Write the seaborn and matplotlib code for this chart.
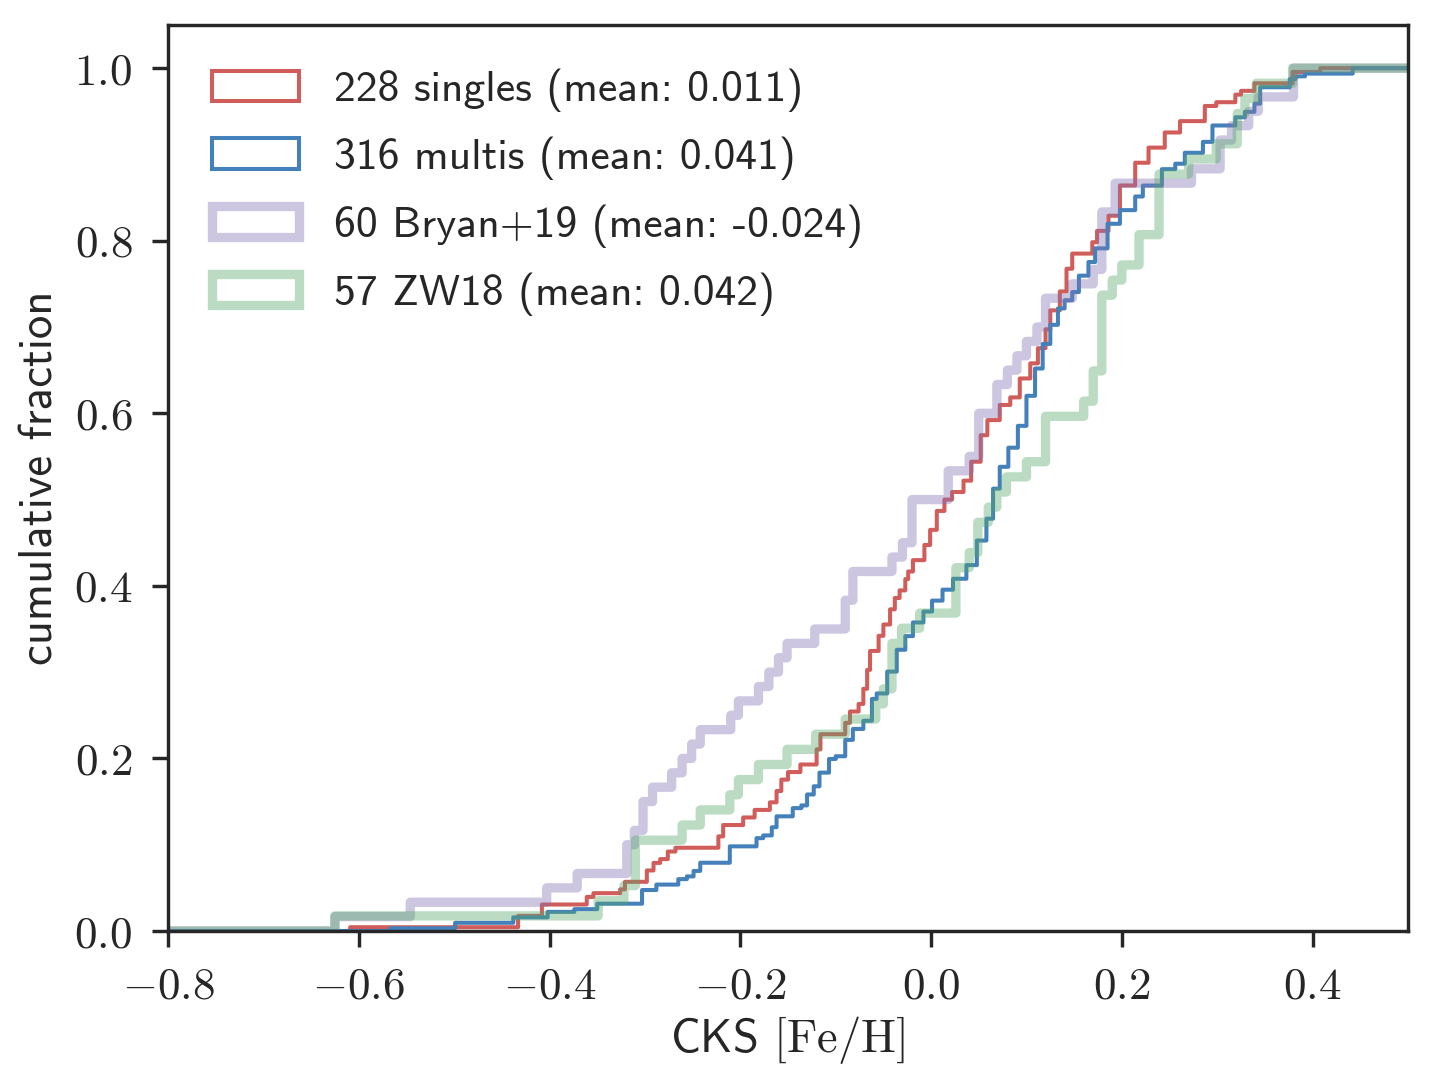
import numpy as np
import matplotlib
matplotlib.use('Agg')
import matplotlib.pyplot as plt
from matplotlib.patches import Rectangle
from matplotlib.ticker import FuncFormatter, MultipleLocator
import seaborn as sns

# -----------------------------------------------
# Data: [Fe/H] value where each curve steps up, and the
# cumulative number of stars reached at that value
# -----------------------------------------------

singles_feh = [-0.609, -0.433, -0.408, -0.361, -0.354, -0.326, -0.321, -0.298, -0.291, -0.284,
               -0.276, -0.268, -0.223, -0.218, -0.197, -0.185, -0.169, -0.162, -0.157, -0.150,
               -0.137, -0.120, -0.115, -0.090, -0.085, -0.076, -0.071, -0.067, -0.064, -0.055,
               -0.050, -0.043, -0.038, -0.033, -0.027, -0.024, -0.019, -0.007, -0.001, 0.007,
               0.015, 0.023, 0.034, 0.042, 0.052, 0.059, 0.072, 0.083, 0.093, 0.104,
               0.112, 0.120, 0.125, 0.135, 0.143, 0.149, 0.169, 0.174, 0.186, 0.198,
               0.214, 0.228, 0.245, 0.261, 0.287, 0.300, 0.319, 0.325, 0.340, 0.379,
               0.408]
singles_cum = [1, 4, 7, 9, 10, 11, 13, 16, 18, 19,
               21, 22, 25, 28, 30, 32, 34, 37, 40, 42,
               44, 48, 52, 55, 58, 60, 64, 69, 74, 78,
               81, 85, 88, 90, 93, 95, 98, 102, 106, 111,
               114, 116, 119, 124, 131, 135, 139, 141, 146, 150,
               154, 159, 164, 169, 175, 179, 182, 185, 189, 197,
               203, 207, 211, 214, 218, 219, 221, 222, 224, 227,
               228]

multis_feh = [-0.567, -0.499, -0.438, -0.402, -0.374, -0.350, -0.303, -0.288, -0.265, -0.256,
              -0.249, -0.242, -0.211, -0.183, -0.176, -0.167, -0.162, -0.145, -0.136, -0.130,
              -0.123, -0.116, -0.106, -0.099, -0.090, -0.082, -0.071, -0.062, -0.057, -0.046,
              -0.036, -0.027, -0.019, -0.008, 0.002, 0.013, 0.024, 0.037, 0.048, 0.058,
              0.065, 0.072, 0.081, 0.091, 0.100, 0.109, 0.117, 0.125, 0.133, 0.141,
              0.149, 0.156, 0.165, 0.172, 0.185, 0.198, 0.214, 0.222, 0.242, 0.256,
              0.266, 0.285, 0.296, 0.319, 0.329, 0.340, 0.345, 0.376, 0.382, 0.392,
              0.443]
multis_cum = [1, 3, 5, 7, 8, 10, 15, 17, 19, 20,
              22, 25, 31, 34, 35, 38, 42, 45, 46, 50,
              53, 58, 63, 64, 70, 74, 77, 85, 87, 95,
              103, 108, 113, 117, 121, 125, 129, 134, 143, 151,
              162, 170, 177, 185, 196, 206, 215, 222, 228, 231,
              234, 240, 245, 250, 259, 264, 269, 273, 279, 281,
              285, 289, 295, 298, 300, 303, 309, 312, 313, 314,
              316]

bryan_feh = [-0.625, -0.546, -0.403, -0.371, -0.319, -0.311, -0.302, -0.292, -0.272, -0.261,
             -0.251, -0.242, -0.210, -0.202, -0.181, -0.170, -0.160, -0.151, -0.122, -0.090,
             -0.082, -0.041, -0.030, -0.020, 0.019, 0.040, 0.050, 0.069, 0.080, 0.090,
             0.100, 0.111, 0.120, 0.149, 0.170, 0.179, 0.193, 0.273, 0.303, 0.315,
             0.333, 0.343, 0.380]
bryan_cum = [1, 2, 3, 4, 6, 7, 9, 10, 11, 12,
             13, 14, 15, 16, 17, 18, 19, 20, 21, 23,
             25, 26, 27, 30, 32, 33, 36, 38, 39, 40,
             41, 42, 44, 45, 46, 50, 52, 53, 55, 56,
             57, 58, 60]

zw18_feh = [-0.625, -0.349, -0.322, -0.310, -0.261, -0.242, -0.211, -0.202, -0.181, -0.151,
            -0.121, -0.090, -0.058, -0.050, -0.041, -0.031, -0.012, 0.027, 0.040, 0.049,
            0.060, 0.069, 0.079, 0.100, 0.120, 0.160, 0.170, 0.179, 0.190, 0.200,
            0.219, 0.239, 0.270, 0.300, 0.321, 0.329, 0.342, 0.379]
zw18_cum = [1, 2, 3, 6, 7, 8, 9, 10, 11, 12,
            13, 14, 15, 16, 19, 20, 21, 24, 25, 27,
            28, 29, 30, 31, 34, 35, 37, 42, 43, 44,
            46, 50, 51, 52, 54, 55, 56, 57]

labels = ['228 singles (mean: 0.011)',
          '316 multis (mean: 0.041)',
          '60 Bryan+19 (mean: -0.024)',
          '57 ZW18 (mean: 0.042)']


def expand(feh, cum):
    # one entry per star
    return np.repeat(feh, np.diff(cum, prepend=0))


samples = [expand(singles_feh, singles_cum),
           expand(multis_feh, multis_cum),
           expand(bryan_feh, bryan_cum),
           expand(zw18_feh, zw18_cum)]

# -----------------------------------------------
# Plot
# -----------------------------------------------

sns.set_style('ticks')
plt.rcParams['font.family'] = ['cmss10', 'DejaVu Sans']
plt.rcParams['mathtext.fontset'] = 'cm'
plt.rcParams['axes.unicode_minus'] = False
plt.rcParams['axes.formatter.use_mathtext'] = True

colors = ['#d15d5b', '#4481bb', '#8172b2', '#55a868']
widths = [1.3, 1.3, 3.0, 3.0]
alphas = [1.0, 1.0, 0.4, 0.4]

fig = plt.figure(figsize=(1433 / 224, 1088 / 224), dpi=224)
ax = fig.add_axes([168 / 1433, 1 - 931 / 1088, (1408 - 168) / 1433, (931 - 25) / 1088])

bins = np.linspace(-0.8, 0.5, 1301)
for x, col, lw, a in zip(samples, colors, widths, alphas):
    sns.histplot(x=x, bins=bins, cumulative=True, stat='proportion', element='step',
                 fill=False, color=col, linewidth=lw, alpha=a, ax=ax)

ax.set_xlim(-0.8, 0.5)
ax.set_ylim(0, 1.05)
ax.xaxis.set_major_locator(MultipleLocator(0.2))
ax.yaxis.set_major_locator(MultipleLocator(0.2))
fmt = FuncFormatter(lambda v, p: '${:.1f}$'.format(round(v, 1) + 0.0))
ax.xaxis.set_major_formatter(fmt)
ax.yaxis.set_major_formatter(fmt)
ax.tick_params(labelsize=14.5, length=5, width=1.1, direction='out', pad=6.5)
for s in ax.spines.values():
    s.set_linewidth(1.1)

ax.set_xlabel(r'CKS $[\mathrm{Fe/H}]$', fontsize=15, labelpad=2)
ax.set_ylabel('cumulative fraction', fontsize=15, labelpad=4)

handles = [Rectangle((0, 0), 1, 1, facecolor='none', edgecolor=col, linewidth=lw, alpha=a)
           for col, lw, a in zip(colors, widths, alphas)]
ax.legend(handles, labels, loc='upper left', frameon=False, fontsize=14,
          labelspacing=0.56, borderaxespad=0.6)

fig.savefig('out.png', dpi=224)
